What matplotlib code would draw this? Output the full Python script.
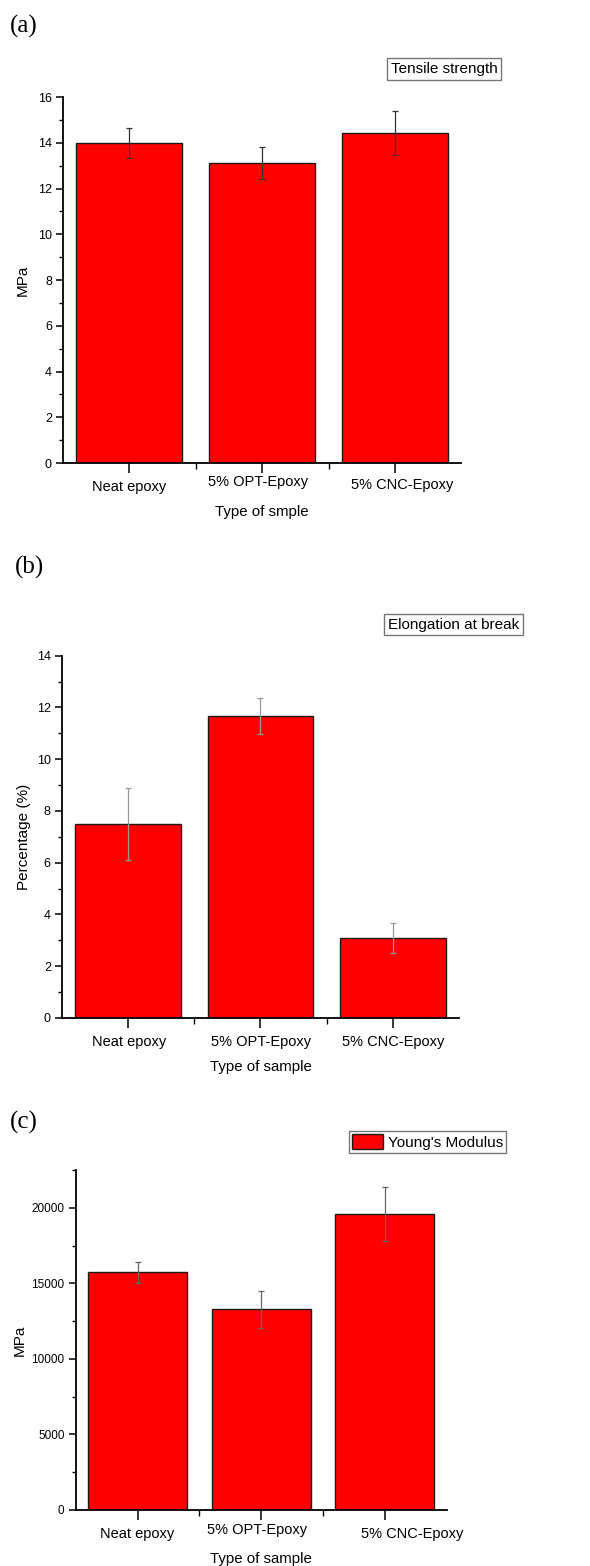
import matplotlib.pyplot as plt
from matplotlib.ticker import MultipleLocator, FixedLocator
from matplotlib.transforms import ScaledTranslation

plt.rcParams['font.family'] = ['Liberation Sans', 'DejaVu Sans']

# data
samples = ['Neat epoxy', '5% OPT-Epoxy', '5% CNC-Epoxy']

tensile = [14.0, 13.12, 14.43]
tensile_err = [0.67, 0.68, 0.95]

elongation = [7.48, 11.67, 3.09]
elongation_err = [1.39, 0.68, 0.59]

modulus = [15720, 13270, 19580]
modulus_err = [700, 1200, 1780]

fig = plt.figure(figsize=(5.9, 15.66), dpi=100)
x = list(range(len(samples)))


def panel(rect, vals, errs, ecol, ylim, major, minor, ylabel, xlabel,
          ytick_size, label_shift, label=None):
    ax = fig.add_axes(rect)
    bars = ax.bar(x, vals, width=0.8, color='#ff0000', edgecolor='#1a1a1a',
                  linewidth=1.0, label=label)
    ax.errorbar(x, vals, yerr=errs, fmt='none', ecolor=ecol, elinewidth=0.9,
                capsize=2.5, capthick=0.9)
    ax.set_xlim(-0.5, 2.5)
    ax.set_ylim(*ylim)
    ax.spines['top'].set_visible(False)
    ax.spines['right'].set_visible(False)
    ax.spines['left'].set_linewidth(1.3)
    ax.spines['bottom'].set_linewidth(1.3)
    ax.yaxis.set_major_locator(MultipleLocator(major))
    ax.yaxis.set_minor_locator(MultipleLocator(minor))
    ax.set_xticks(x)
    ax.set_xticklabels(samples, fontsize=10.5)
    ax.xaxis.set_minor_locator(FixedLocator([0.5, 1.5]))
    ax.tick_params(axis='y', which='major', length=5, width=1.1, labelsize=ytick_size, pad=3)
    ax.tick_params(axis='y', which='minor', length=3, width=1.0)
    ax.tick_params(axis='x', which='major', length=7, width=1.1, pad=5)
    ax.tick_params(axis='x', which='minor', length=4, width=1.0)
    # the labels in the original are nudged around a bit
    for lab, (dx, dy) in zip(ax.get_xticklabels(), label_shift):
        lab.set_transform(lab.get_transform() + ScaledTranslation(dx / 100, dy / 100, fig.dpi_scale_trans))
    ax.set_ylabel(ylabel, fontsize=11)
    ax.set_xlabel(xlabel, fontsize=10.8, labelpad=8)
    return ax, bars


# (a) tensile strength
ax1, _ = panel([0.1068, 0.7043, 0.675, 0.2337], tensile, tensile_err, '#333333',
               (0, 16), 2, 1, 'MPa', 'Type of smple', 9,
               [(0, 0), (-4, 5), (7, 2)])
ax1.yaxis.set_label_coords(-0.083, 0.5)
fig.text(0.016, 0.983, '(a)', family='Liberation Serif', fontsize=18, va='center')
fig.text(0.662, 0.9559, 'Tensile strength', fontsize=11, va='center',
         bbox=dict(boxstyle='square,pad=0.25', facecolor='white', edgecolor='#777777', linewidth=1))

# (b) elongation at break
ax2, _ = panel([0.105, 0.35, 0.673, 0.2313], elongation, elongation_err, '#999999',
               (0, 14), 2, 1, 'Percentage (%)', 'Type of sample', 9,
               [(1, 0), (1, 0), (0, 0)])
ax2.yaxis.set_label_coords(-0.078, 0.5)
fig.text(0.025, 0.6375, '(b)', family='Liberation Serif', fontsize=18, va='center')
fig.text(0.657, 0.6012, 'Elongation at break', fontsize=11, va='center',
         bbox=dict(boxstyle='square,pad=0.25', facecolor='white', edgecolor='#777777', linewidth=1))

# (c) young's modulus
ax3, _ = panel([0.1283, 0.0358, 0.629, 0.2171], modulus, modulus_err, '#666666',
               (0, 22500), 5000, 2500, 'MPa', 'Type of sample', 8.5,
               [(0, 0), (-4, 4), (27, 0)], label="Young's Modulus")
ax3.yaxis.set_label_coords(-0.131, 0.5)
fig.text(0.016, 0.2835, '(c)', family='Liberation Serif', fontsize=18, va='center')
ax3.legend(loc='upper right', bbox_to_anchor=(0.858, 0.2776), bbox_transform=fig.transFigure,
           fontsize=11, fancybox=False, framealpha=1, edgecolor='#777777',
           handlelength=2.0, handleheight=1.1, handletextpad=0.35, borderpad=0.2,
           borderaxespad=0)

fig.savefig('out.png', dpi=100)
